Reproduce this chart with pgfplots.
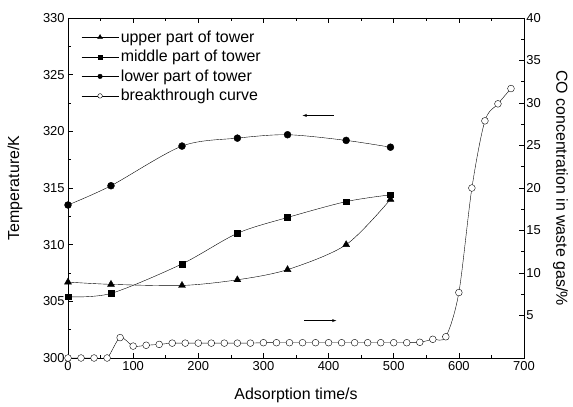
\documentclass[border=0pt]{standalone}
\usepackage{pgfplots}
\pgfplotsset{compat=1.18}
\usepackage{fontspec}
\setmainfont{Liberation Sans}
\begin{document}
\begin{tikzpicture}
\pgfplotsset{every axis/.append style={
  scale only axis, width=456bp, height=340bp,
  font=\fontsize{13}{15}\selectfont,
  tick align=inside, line width=0.7pt,
  /pgf/number format/assume math mode=true,
  major tick length=5pt, minor tick length=3pt,
  every tick/.style={black, line width=0.7pt},
  label style={font=\fontsize{16}{18}\selectfont},
  yticklabel style={inner sep=1pt},
}}
\begin{axis}[
  xmin=0, xmax=700, ymin=300, ymax=330,
  xtick={0,100,...,700}, minor x tick num=1,
  ytick={300,305,...,330}, minor y tick num=1,
  xtick pos=both, ytick pos=left,
  yticklabel style={xshift=-2bp},
  xlabel={Adsorption time/s}, ylabel={Temperature/K},
  xlabel style={at={(axis description cs:0.5,-0.109)}, anchor=center},
  ylabel style={at={(axis description cs:-0.116,0.5)}, anchor=center},
  legend style={at={(axis description cs:0.022,0.975)}, anchor=north west, draw=none, fill=none,
    row sep=2.5pt, font=\fontsize{16}{18}\selectfont},
  legend cell align=left,
  legend image code/.code={\draw[#1] (0bp,0bp) -- (37bp,0bp); \draw[#1] plot coordinates {(18.5bp,0bp)};},
]
\addplot[black, thin, smooth, mark=triangle*, mark size=4pt, forget plot] coordinates {
(0,306.7) (66,306.5) (175,306.4) (260,306.9) (337,307.8) (427,310.0) (495,314.0)};
\addplot[black, thin, smooth, mark=square*, mark size=2.9pt, forget plot] coordinates {
(0,305.4) (66,305.7) (175,308.3) (260,311.0) (337,312.4) (427,313.8) (495,314.4)};
\addplot[black, thin, smooth, mark=*, mark size=3.5pt, forget plot] coordinates {
(0,313.5) (66,315.2) (175,318.7) (260,319.4) (337,319.7) (427,319.2) (495,318.6)};
\addlegendimage{black, thin, mark=triangle*, mark size=2.8pt}
\addlegendentry{upper part of tower}
\addlegendimage{black, thin, mark=square*, mark size=2pt}
\addlegendentry{middle part of tower}
\addlegendimage{black, thin, mark=*, mark size=2.3pt}
\addlegendentry{lower part of tower}
\addlegendimage{black, thin, mark=*, mark size=2.3pt, mark options={fill=white}}
\addlegendentry{breakthrough curve}
\draw[-latex, thin] (axis cs:408,321.4) -- (axis cs:360,321.4);
\draw[-latex, thin] (axis cs:363,303.3) -- (axis cs:412,303.3);
\coordinate (bl) at (rel axis cs:0,0);
\coordinate (tr) at (rel axis cs:1,1);
\end{axis}
\begin{axis}[
  xmin=0, xmax=700, ymin=0, ymax=40,
  axis x line=none, axis y line*=right,
  ytick={5,10,...,40}, extra y ticks={0}, extra y tick labels={},
  minor y tick num=1,
  yticklabel style={xshift=1bp},
  ylabel={CO concentration in waste gas/\%},
  ylabel style={at={(axis description cs:1.08,0.5)}, anchor=center, rotate=180},
]
\addplot[black, thin, smooth, tension=0.5, mark=*, mark size=3.4pt, mark options={fill=white}] coordinates {
(0,0) (20,0) (40,0) (60,0) (80,2.4) (100,1.4) (120,1.5) (140,1.6) (160,1.75)
(180,1.75) (200,1.75) (220,1.75) (240,1.75) (260,1.75) (280,1.75) (300,1.8)
(320,1.8) (340,1.8) (360,1.8) (380,1.8) (400,1.8) (420,1.8) (440,1.8) (460,1.8)
(480,1.8) (500,1.8) (520,1.8) (540,1.85) (560,2.2) (580,2.5) (600,7.7)
(620,20.0) (640,27.9) (660,29.9) (680,31.7)};
\end{axis}
\path ([shift={(-68bp,-49bp)}]bl) rectangle ([shift={(49bp,18bp)}]tr);
\end{tikzpicture}
\end{document}
